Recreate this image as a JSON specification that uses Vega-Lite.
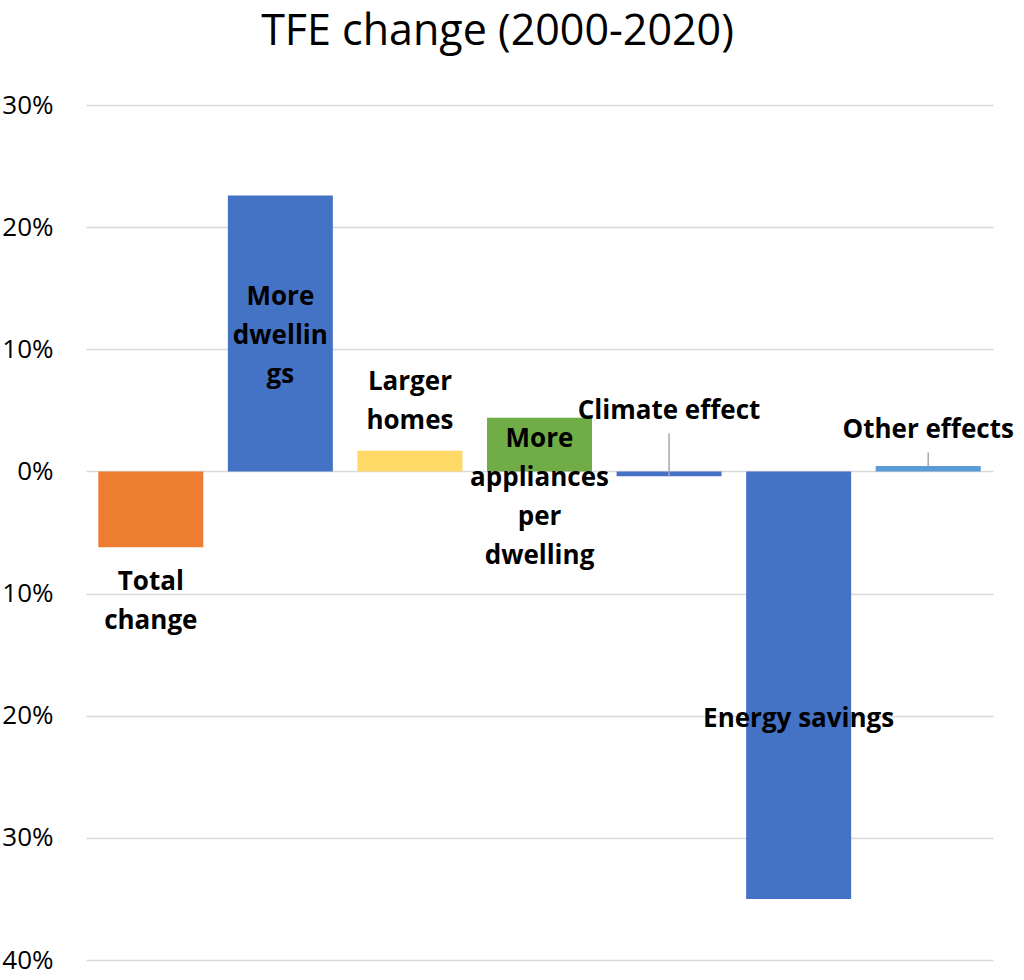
{
  "$schema": "https://vega.github.io/schema/vega-lite/v6.json",
  "autosize": {"type": "none"},
  "width": 907,
  "height": 855,
  "padding": {"left": 86, "top": 105, "right": 31, "bottom": 20},
  "background": "white",
  "config": {"view": {"stroke": null}, "font": "Open Sans"},
  "title": {
    "text": "TFE change (2000-2020)",
    "font": "Open Sans",
    "fontSize": 43,
    "fontWeight": "normal",
    "color": "#000000",
    "anchor": "middle",
    "frame": "group",
    "dx": -42,
    "offset": 38
  },
  "datasets": {
    "bars": [
      {"category": "Total change", "value": -0.062},
      {"category": "More dwellings", "value": 0.226},
      {"category": "Larger homes", "value": 0.017},
      {"category": "More appliances per dwelling", "value": 0.044},
      {"category": "Climate effect", "value": -0.004},
      {"category": "Energy savings", "value": -0.35},
      {"category": "Other effects", "value": 0.0045}
    ],
    "labels": [
      {"category": "Total change", "text": "Total\nchange", "pos": -0.0908},
      {"category": "More dwellings", "text": "More\ndwellin\ngs", "pos": 0.1432},
      {"category": "Larger homes", "text": "Larger\nhomes", "pos": 0.0736},
      {"category": "More appliances per dwelling", "text": "More\nappliances\nper\ndwelling", "pos": 0.0262},
      {"category": "Climate effect", "text": "Climate effect", "pos": 0.0491},
      {"category": "Energy savings", "text": "Energy savings", "pos": -0.2029},
      {"category": "Other effects", "text": "Other effects", "pos": 0.0336}
    ],
    "leaders": [
      {"category": "Climate effect", "top": 0.031, "bottom": -0.004},
      {"category": "Other effects", "top": 0.0155, "bottom": 0.0041}
    ]
  },
  "encoding": {
    "x": {
      "field": "category",
      "type": "nominal",
      "sort": ["Total change", "More dwellings", "Larger homes", "More appliances per dwelling", "Climate effect", "Energy savings", "Other effects"],
      "scale": {"paddingInner": 0.19, "paddingOuter": 0.095},
      "axis": null
    }
  },
  "layer": [
    {
      "data": {"name": "bars"},
      "mark": {"type": "bar", "size": 105},
      "encoding": {
        "y": {
          "field": "value",
          "type": "quantitative",
          "scale": {"domain": [-0.4, 0.3], "nice": false},
          "axis": {
            "title": null,
            "values": [-0.4, -0.3, -0.2, -0.1, 0, 0.1, 0.2, 0.3],
            "labelExpr": "format(abs(datum.value), '.0%')",
            "domain": false,
            "ticks": false,
            "grid": true,
            "gridColor": "#D9D9D9",
            "gridWidth": 1.5,
            "labelFont": "Open Sans",
            "labelFontSize": 26,
            "labelColor": "#000000",
            "labelPadding": 33
          }
        },
        "color": {
          "field": "category",
          "type": "nominal",
          "legend": null,
          "scale": {
            "domain": ["Total change", "More dwellings", "Larger homes", "More appliances per dwelling", "Climate effect", "Energy savings", "Other effects"],
            "range": ["#ED7D31", "#4472C4", "#FFD966", "#70AD47", "#4472C4", "#4472C4", "#5B9BD5"]
          }
        }
      }
    },
    {
      "data": {"name": "leaders"},
      "mark": {"type": "rule", "color": "#A6A6A6", "strokeWidth": 1.5},
      "encoding": {
        "y": {"field": "top", "type": "quantitative"},
        "y2": {"field": "bottom"}
      }
    },
    {
      "data": {"name": "labels"},
      "mark": {
        "type": "text",
        "font": "Open Sans",
        "fontSize": 26,
        "fontWeight": "bold",
        "color": "#000000",
        "lineBreak": "\n",
        "lineHeight": 39,
        "align": "center",
        "baseline": "middle"
      },
      "encoding": {
        "y": {"field": "pos", "type": "quantitative"},
        "text": {"field": "text"}
      }
    }
  ]
}
